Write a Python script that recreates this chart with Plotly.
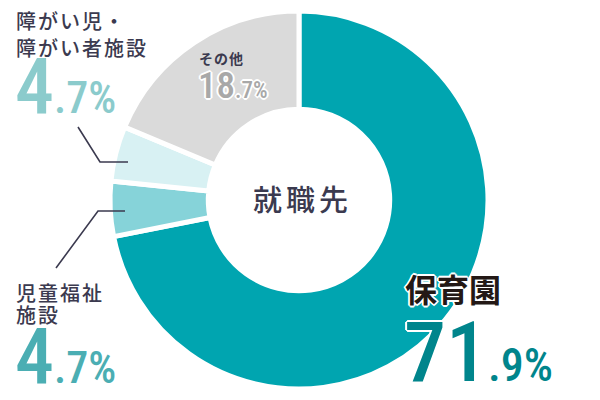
import plotly.graph_objects as go

# data (clockwise from 12 o'clock)
labels = ["保育園", "児童福祉施設", "障がい児・障がい者施設", "その他"]
values = [71.9, 4.7, 4.7, 18.7]
slice_colors = ["#00A5B0", "#86D3D9", "#D8F1F3", "#DADADA"]
center_label = "就職先"

W, H = 600, 400
OFF = 8  # page body margin
JP = "Noto Sans CJK JP"
NUM = "Roboto Condensed"
WHITE_EDGE = "white 2px 0 0, white -2px 0 0, white 0 2px 0, white 0 -2px 0, white 1px 1px 0, white -1px -1px 0, white 1px -1px 0, white -1px 1px 0"


def px(x):
    return (x - OFF) / W


def py(y):
    return 1 - (y - OFF) / H


def pct(v, small):
    whole, dec = f"{v:.1f}".split(".")
    return f"{whole}<span style='font-size:{small}px'>.{dec}%</span>"


def spaced(t, gap):
    return f"<span style='letter-spacing:{gap}px'>{t}</span>"


fig = go.Figure()
fig.add_trace(go.Pie(
    labels=labels,
    values=values,
    sort=False,
    direction="clockwise",
    rotation=0,
    hole=0.48,
    textinfo="none",
    hoverinfo="skip",
    showlegend=False,
    marker=dict(colors=slice_colors, line=dict(color="white", width=5)),
    domain=dict(x=[px(299 - 189), px(299 + 189)], y=[py(200 + 189), py(200 - 189)]),
))

dark = "#3B3A4F"
ann = []
# center
ann.append(dict(x=px(302), y=py(198), text=spaced(center_label, 4),
                font=dict(family=JP, size=29, color=dark, weight=500)))
# 障がい児・障がい者施設
for t, y in [("障がい児・", 21), ("障がい者施設", 47)]:
    ann.append(dict(x=px(14), y=py(y), xanchor="left", text=spaced(t, 2),
                    font=dict(family=JP, size=20, color=dark, weight=500)))
ann.append(dict(x=px(13), y=py(86), xanchor="left",
                text=pct(values[2], 44), font=dict(family=NUM, size=78, color="#8BCBCC", weight=500)))
# 児童福祉施設
for t, y in [("児童福祉", 292), ("施設", 314)]:
    ann.append(dict(x=px(14), y=py(y), xanchor="left", text=spaced(t, 2),
                    font=dict(family=JP, size=20, color=dark, weight=500)))
ann.append(dict(x=px(13), y=py(356), xanchor="left",
                text=pct(values[1], 44), font=dict(family=NUM, size=78, color="#4BAEB3", weight=500)))
# その他
ann.append(dict(x=px(197), y=py(58), xanchor="left",
                text=spaced("その他", 1), font=dict(family=JP, size=14, color=dark, weight="bold")))
ann.append(dict(x=px(196), y=py(85), xanchor="left",
                text=pct(values[3], 23), font=dict(family=NUM, size=37, color="#A8A8A8", weight=500, shadow=WHITE_EDGE)))
# 保育園
ann.append(dict(x=px(403), y=py(288), xanchor="left",
                text="保育園", font=dict(family=JP, size=32, color="#231815", weight="bold", shadow=WHITE_EDGE)))
ann.append(dict(x=px(402), y=py(352), xanchor="left",
                text=pct(values[0], 46), font=dict(family=NUM, size=84, color="#00858C", weight=500, shadow=WHITE_EDGE)))

for a in ann:
    a.update(xref="paper", yref="paper", yanchor="middle", align="left", showarrow=False)

line_style = dict(color="#3B3A4F", width=1.6)
shapes = [
    dict(type="path", path=f"M {px(78)},{py(127)} L {px(100)},{py(162)} L {px(128)},{py(162)}",
         xref="paper", yref="paper", line=line_style),
    dict(type="path", path=f"M {px(125)},{py(211)} L {px(98)},{py(211)} L {px(56)},{py(268)}",
         xref="paper", yref="paper", line=line_style),
]

fig.update_layout(
    width=W, height=H,
    margin=dict(l=0, r=0, t=0, b=0),
    paper_bgcolor="white",
    plot_bgcolor="white",
    annotations=ann,
    shapes=shapes,
)

fig.write_html("out.html")
